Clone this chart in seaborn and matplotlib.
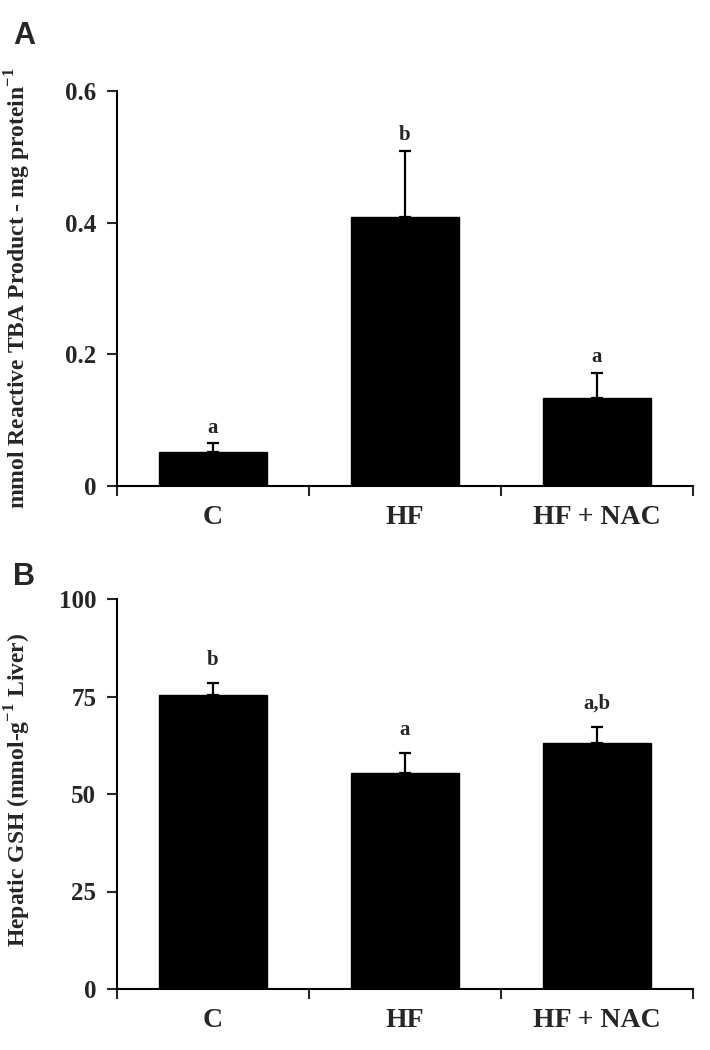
import matplotlib
matplotlib.use("Agg")
import matplotlib.pyplot as plt
import seaborn as sns
import numpy as np
import pandas as pd

categories = ["C", "HF", "HF + NAC"]
tba_mean = [0.051, 0.408, 0.134]
tba_sem = [0.014, 0.101, 0.038]
tba_letters = ["a", "b", "a"]
gsh_mean = [75.4, 55.5, 63.2]
gsh_sem = [3.1, 5.1, 4.1]
gsh_letters = ["b", "a", "a,b"]

sns.set_theme(style="ticks")
plt.rcParams['font.family'] = ['Liberation Serif', 'DejaVu Serif']
plt.rcParams['mathtext.fontset'] = 'custom'
plt.rcParams['mathtext.rm'] = 'Liberation Serif:bold'
plt.rcParams['mathtext.bf'] = 'Liberation Serif:bold'

fig = plt.figure(figsize=(7.1, 10.5), dpi=100)
axA = fig.add_axes([117/710, 1-486/1050, (693-117)/710, (486-91)/1050])
axB = fig.add_axes([117/710, 1-989/1050, (693-117)/710, (989-599)/1050])

def panel(ax, means, sems, letters, ylim, yticks, yticklabels, ylabel, off):
    df = pd.DataFrame({"group": categories, "value": means})
    sns.barplot(data=df, x="group", y="value", color="black", width=0.56,
                saturation=1, ax=ax, errorbar=None, edgecolor="black")
    pos = np.arange(len(categories))
    ax.errorbar(pos, means, yerr=[np.zeros(len(sems)), sems], fmt="none",
                ecolor="black", elinewidth=1.6, capsize=4, capthick=1.6)
    for x, m, s, l in zip(pos, means, sems, letters):
        ax.annotate(l, (x, m + s), xytext=(0, off), textcoords="offset points",
                    ha="center", va="bottom", fontsize=15, fontweight="bold")
    ax.set_xlim(-0.5, 2.5)
    ax.set_ylim(*ylim)
    ax.set_yticks(yticks)
    ax.set_yticklabels(yticklabels, fontsize=18, fontweight="bold")
    ax.set_xticks([-0.5, 0.5, 1.5, 2.5])
    ax.set_xticklabels([])
    ax.set_xticks(pos, minor=True)
    ax.set_xticklabels(categories, minor=True, fontsize=20, fontweight="bold")
    ax.tick_params(axis="x", which="minor", length=0, pad=14)
    ax.tick_params(axis="x", which="major", length=7, width=1.5, direction="out")
    ax.tick_params(axis="y", length=7, width=1.5, direction="out", pad=8)
    ax.set_xlabel("")
    ax.set_ylabel(ylabel, fontsize=17, fontweight="bold")
    for sp in ["top", "right"]:
        ax.spines[sp].set_visible(False)
    for sp in ["left", "bottom"]:
        ax.spines[sp].set_linewidth(1.5)
        ax.spines[sp].set_color("black")

panel(axA, tba_mean, tba_sem, tba_letters, (0, 0.6), [0, 0.2, 0.4, 0.6],
      ["0", "0.2", "0.4", "0.6"],
      r"mmol Reactive TBA Product - mg protein$^{-1}$", 4)
panel(axB, gsh_mean, gsh_sem, gsh_letters, (0, 100), [0, 25, 50, 75, 100],
      ["0", "25", "50", "75", "100"],
      r"Hepatic GSH (mmol-g$^{-1}$ Liver)", 9)

axA.yaxis.set_label_coords(-0.146, 0.5)
axB.yaxis.set_label_coords(-0.146, 0.51)

fig.text(13/710, 1-44/1050, "A", fontsize=22, fontweight="bold", family="Liberation Sans")
fig.text(13/710, 1-585/1050, "B", fontsize=22, fontweight="bold", family="Liberation Sans")

fig.savefig("out.png", dpi=100, facecolor="white")
